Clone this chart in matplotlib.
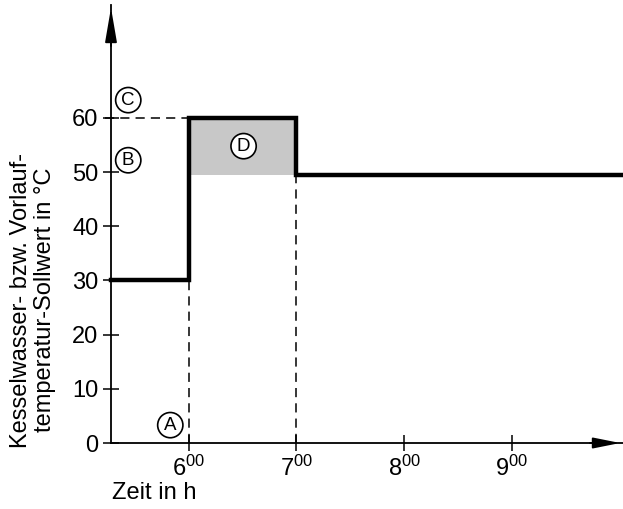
import matplotlib
matplotlib.use("Agg")
import matplotlib.pyplot as plt

plt.rcParams["font.family"] = ["Liberation Sans", "DejaVu Sans"]
plt.rcParams["mathtext.fontset"] = "custom"
plt.rcParams["mathtext.rm"] = "Liberation Sans"

# step profile of the set-point (hours, degC)
step_t = [5.28, 6.0, 6.0, 7.0, 7.0, 10.02]
step_v = [30, 30, 60, 60, 49.4, 49.4]
boost_start, boost_end = 6.0, 7.0
boost_lo, boost_hi = 49.4, 60
x_ticks = [6, 7, 8, 9]
x_labels = [r"$\mathregular{6^{00}}$", r"$\mathregular{7^{00}}$",
            r"$\mathregular{8^{00}}$", r"$\mathregular{9^{00}}$"]
y_ticks = [0, 10, 20, 30, 40, 50, 60]
markers = {"A": (5.83, 3.3), "B": (5.44, 52.2), "C": (5.44, 63.3), "D": (6.51, 54.8)}

x0, x1 = 5.28, 10.02

fig = plt.figure(figsize=(6.23, 5.09), dpi=100)
ax = fig.add_axes([111 / 623, (509 - 443) / 509, (623 - 111) / 623, (443 - 5) / 509])
ax.set_xlim(x0, x1 + 0.01)
ax.set_ylim(0, 438 / 54.17 * 10)

for s in ("top", "right"):
    ax.spines[s].set_visible(False)
for s in ("left", "bottom"):
    ax.spines[s].set_linewidth(1.3)

# arrow heads on the axes
ax.annotate("", xy=(1.0, 0), xytext=(0.93, 0), xycoords="axes fraction",
            arrowprops=dict(arrowstyle="-|>,head_length=1.65,head_width=0.33",
                            color="black", lw=1.3), annotation_clip=False)
ax.annotate("", xy=(0, 1.0), xytext=(0, 0.9), xycoords="axes fraction",
            arrowprops=dict(arrowstyle="-|>,head_length=2.1,head_width=0.36",
                            color="black", lw=1.3), annotation_clip=False)

ax.fill_between([boost_start, boost_end], boost_lo, boost_hi, color="#c8c8c8", lw=0)
ax.plot(step_t, step_v, color="black", lw=3.2, solid_joinstyle="miter", clip_on=False)

dash = dict(color="black", lw=1.1, dashes=(6, 4))
ax.plot([x0 - 0.055, boost_start], [boost_hi, boost_hi], clip_on=False, **dash)
ax.plot([boost_start, boost_start], [0, 30], **dash)
ax.plot([boost_end, boost_end], [0, boost_lo], **dash)

ax.set_xticks(x_ticks)
ax.set_xticklabels(x_labels, fontsize=17)
ax.set_yticks(y_ticks)
ax.set_yticklabels([str(v) for v in y_ticks], fontsize=17)
ax.tick_params(axis="both", direction="inout", length=12, width=1.1, pad=3)

for name, (tx, ty) in markers.items():
    ax.text(tx, ty, name, fontsize=13.5, ha="center", va="center",
            bbox=dict(boxstyle="circle,pad=0.22", fc="white", ec="black", lw=1.2))

fig.text(112 / 623, 1 - 493 / 509, "Zeit in h", fontsize=17, ha="left", va="center")
fig.text(33 / 623, 1 - 300 / 509,
         "Kesselwasser- bzw. Vorlauf-\ntemperatur-Sollwert in °C",
         fontsize=17, rotation=90, ha="center", va="center", linespacing=1.1)

fig.savefig("out.png", dpi=100)
